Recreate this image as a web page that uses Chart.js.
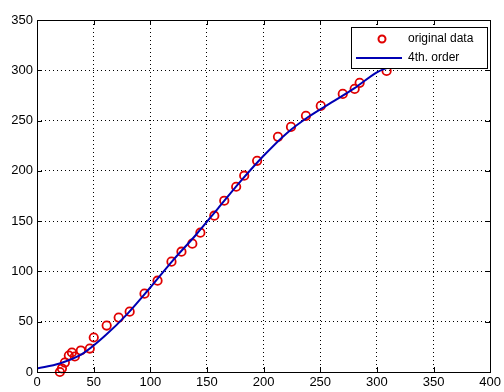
<!DOCTYPE html>
<html>
<head>
<meta charset="utf-8">
<script src="https://cdn.jsdelivr.net/npm/chart.js@4.4.1/dist/chart.umd.min.js"></script>
<style>
  html, body { margin: 0; padding: 0; background: #fff; }
  #wrap { width: 504px; height: 392px; }
</style>
</head>
<body>
<div id="wrap"><canvas id="fit-chart"></canvas></div>
<script>
// measured points
const dataX = [20.2, 22, 24.6, 28.1, 30.8, 33.4, 38.7, 46.6, 50.1, 61.5, 72.1, 81.8, 94.9, 106.4, 118.7, 127.5,
    137.1, 144.2, 156.5, 165.3, 175.8, 182.9, 194.3, 212.7, 224.2, 237.4, 250.5, 269.9, 280.4, 284.8, 308.6];
const dataY = [0, 3.5, 9.4, 16.4, 19.4, 15.4, 21.4, 23.3, 34.3, 46.2, 54.1, 60, 77.9, 90.8, 109.7, 119.6,
    127.6, 138.5, 155.4, 170.3, 184.2, 195.2, 210, 233.8, 243.7, 254.7, 264.6, 276.5, 281.5, 287.5, 299.4];

// 4th order fit curve
const fitX = [0, 20, 40, 60, 80, 100, 120, 140, 160, 180, 200, 220, 240, 260, 280, 300, 310];
const fitY = [3.5, 8.5, 18, 36, 58, 84, 111, 136, 163, 190, 215, 237, 254, 268, 282, 298, 303];

const xTicks = [0, 50, 100, 150, 200, 250, 300, 350, 400];
const yTicks = [0, 50, 100, 150, 200, 250, 300, 350];

const seriesNames = ['original data', '4th. order'];

const FONT = '"Liberation Sans", Arial, sans-serif';

// axes box, inner tick marks and the legend box
const matlabBox = {
    id: 'matlabBox',
    afterDatasetsDraw(chart) {
        const ctx = chart.ctx;
        const a = chart.chartArea;
        const xs = chart.scales.x, ys = chart.scales.y;
        ctx.save();
        ctx.strokeStyle = '#000';
        ctx.lineWidth = 1;
        ctx.setLineDash([]);
        ctx.beginPath();
        xTicks.forEach(function(v) {
            const px = Math.round(xs.getPixelForValue(v)) + 0.5;
            ctx.moveTo(px, a.bottom); ctx.lineTo(px, a.bottom - 5);
            ctx.moveTo(px, a.top); ctx.lineTo(px, a.top + 5);
        });
        yTicks.forEach(function(v) {
            const py = Math.round(ys.getPixelForValue(v)) + 0.5;
            ctx.moveTo(a.left, py); ctx.lineTo(a.left + 5, py);
            ctx.moveTo(a.right, py); ctx.lineTo(a.right - 5, py);
        });
        ctx.stroke();
        ctx.strokeRect(Math.round(a.left) + 0.5, Math.round(a.top) + 0.5,
            Math.round(a.right - a.left), Math.round(a.bottom - a.top));

        // legend
        const lx = 351.5, ly = 27.5, lw = 136, lh = 41;
        ctx.fillStyle = '#fff';
        ctx.fillRect(lx, ly, lw, lh);
        ctx.strokeRect(lx, ly, lw, lh);
        ctx.strokeStyle = '#e00000';
        ctx.lineWidth = 2;
        ctx.beginPath();
        ctx.arc(382, 39, 3.5, 0, Math.PI * 2);
        ctx.stroke();
        ctx.strokeStyle = '#0000b4';
        ctx.beginPath();
        ctx.moveTo(356, 58); ctx.lineTo(402, 58);
        ctx.stroke();
        ctx.fillStyle = '#000';
        ctx.font = '12px ' + FONT;
        ctx.textBaseline = 'middle';
        ctx.fillText(seriesNames[0], 408, 39);
        ctx.fillText(seriesNames[1], 408, 58);
        ctx.restore();
    }
};

const ctx = document.getElementById('fit-chart').getContext('2d');
const fitChart = new Chart(ctx, {
    type: 'scatter',
    data: {
        datasets: [{
            label: seriesNames[1],
            data: fitX.map(function(x, i) { return { x: x, y: fitY[i] }; }),
            showLine: true,
            borderColor: '#0000b4',
            borderWidth: 2,
            pointRadius: 0,
            cubicInterpolationMode: 'monotone',
            order: 1
        }, {
            label: seriesNames[0],
            data: dataX.map(function(x, i) { return { x: x, y: dataY[i] }; }),
            showLine: false,
            pointStyle: 'circle',
            pointRadius: 4.2,
            borderWidth: 1.8,
            borderColor: '#e00000',
            backgroundColor: 'rgba(0,0,0,0)',
            clip: false,
            order: 2
        }]
    },
    options: {
        responsive: true,
        maintainAspectRatio: false,
        animation: false,
        layout: { padding: { top: 20, right: 13, left: 0, bottom: 0 } },
        plugins: {
            legend: { display: false },
            tooltip: { enabled: false }
        },
        scales: {
            x: {
                type: 'linear',
                min: 0,
                max: 400,
                afterBuildTicks: function(scale) { scale.ticks = xTicks.map(function(v) { return { value: v }; }); },
                afterFit: function(scale) { scale.height = 20; },
                grid: { color: '#000', lineWidth: 1, drawTicks: false },
                border: { display: false, dash: [1, 3] },
                ticks: { color: '#000', font: { family: FONT, size: 13 }, padding: 3, maxRotation: 0 }
            },
            y: {
                type: 'linear',
                min: 0,
                max: 350,
                afterBuildTicks: function(scale) { scale.ticks = yTicks.map(function(v) { return { value: v }; }); },
                afterFit: function(scale) { scale.width = 37; },
                grid: { color: '#000', lineWidth: 1, drawTicks: false },
                border: { display: false, dash: [1, 3] },
                ticks: { color: '#000', font: { family: FONT, size: 13 }, padding: 4 }
            }
        }
    },
    plugins: [matlabBox]
});
</script>
</body>
</html>
